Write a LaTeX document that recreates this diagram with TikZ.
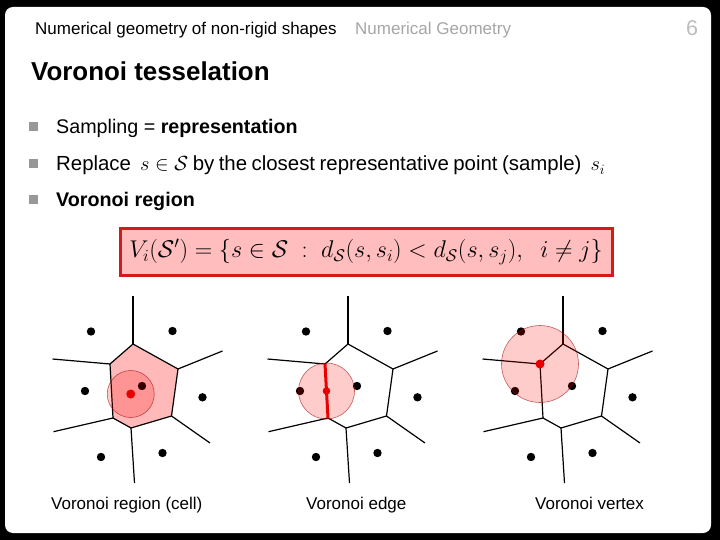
\documentclass[tikz,border=0pt]{standalone}
\usepackage{fix-cm}
\usepackage{fontspec}
\setmainfont{Liberation Sans}
\usepackage{amsmath}
\usepackage{amssymb}
\usetikzlibrary{positioning,calc}
\definecolor{headgray}{HTML}{A6A6A6}
\definecolor{pagegray}{HTML}{BDBDBD}
\definecolor{bulletgray}{HTML}{989898}
\definecolor{cellpink}{HTML}{FFB9B9}
\definecolor{boxred}{HTML}{D41A1A}
\definecolor{boxpink}{HTML}{FFBDBD}
\definecolor{dotred}{HTML}{E60000}

\begin{document}
\begin{tikzpicture}[x=1pt, y=-1pt,
  txt/.style={inner sep=0pt, anchor=base west, font=\fontsize{19.7}{23}\selectfont},
  head/.style={inner sep=0pt, anchor=base west, font=\fontsize{17}{20}\selectfont},
  caption/.style={inner sep=0pt, anchor=base west, font=\fontsize{17}{20}\selectfont},
  bullet/.style={fill=bulletgray, minimum size=9pt, inner sep=0pt},
  edge/.style={line width=1.2pt},
  hiedge/.style={line width=3pt, dotred},
  probe/.style={fill=red, fill opacity=0.2, draw=red!60!black, draw opacity=0.6, line width=0.6pt},
]
  \fill[black] (0,0) rectangle (720,540);
  \fill[white, rounded corners=8pt] (5,7) rectangle (711,533);

  \node[head] (course) at (35,35) {Numerical geometry of non-rigid shapes};
  \node[head, text=headgray] (topic) at (355,35) {Numerical Geometry};
  \node[inner sep=0pt, anchor=base west, text=pagegray, font=\fontsize{21.5}{24}\selectfont] (page) at (686,36) {6};

  \node[inner sep=0pt, anchor=base west, font=\fontsize{25.9}{30}\selectfont\bfseries] (title) at (31,81) {Voronoi tesselation};

  \node[bullet] (b1) at (33.5,127) {};
  \node[bullet] (b2) at (33.5,164) {};
  \node[bullet] (b3) at (33.5,200) {};
  \node[txt] (t1) at (56,134) {Sampling = \textbf{representation}};
  \node[txt, font=\fontsize{20.4}{23}\selectfont] (t2) at (56,171)
    {\hbox to 549pt{Replace \ $s\in\mathcal{S}$ by the closest representative point (sample) \ $s_i$}};
  \node[txt] (t3) at (56,207) {\textbf{Voronoi region}};

  \node[draw=boxred, fill=boxpink, line width=3pt, minimum width=492pt, minimum height=46pt,
        font=\fontsize{24.2}{28}\selectfont] (def) at (366,252)
    {$V_i(\mathcal{S}') = \{ s\in\mathcal{S}\;:\; d_{\mathcal{S}}(s,s_i) < d_{\mathcal{S}}(s,s_j),\;\; i\neq j\}$};

  \foreach \d/\ox in {A/40,B/255,C/470}{
    \begin{scope}[shift={(\ox,290)}]
      \coordinate (\d p1) at (51,41.5);
      \coordinate (\d p2) at (132.5,41);
      \coordinate (\d p3) at (45,101);
      \coordinate (\d p4) at (102,96);
      \coordinate (\d p5) at (162.5,107.3);
      \coordinate (\d p6) at (61,167);
      \coordinate (\d p7) at (122.5,163);
      \coordinate (\d v1) at (93,54);
      \coordinate (\d v2) at (138,79);
      \coordinate (\d v3) at (131.5,126);
      \coordinate (\d v4) at (91,138);
      \coordinate (\d v5) at (73,128);
      \coordinate (\d v6) at (70,74);
      \coordinate (\d e1) at (93,6);
      \coordinate (\d e2) at (182.5,61);
      \coordinate (\d e3) at (170,153);
      \coordinate (\d e4) at (94.5,193);
      \coordinate (\d e5) at (13.5,141.7);
      \coordinate (\d e6) at (12.5,69);
    \end{scope}
  }
  \coordinate (Aq) at ($(Av6)!0.5!(Av3)+(-10,4)$);
  \coordinate (Bq) at ($(Bv6)!0.5!(Bv5)$);

  \fill[cellpink] (Av1) -- (Av2) -- (Av3) -- (Av4) -- (Av5) -- (Av6) -- cycle;

  \foreach \d in {A,B,C}{
    \draw[edge] (\d v1) -- (\d v2) -- (\d v3) -- (\d v4) -- (\d v5) -- (\d v6) -- cycle;
    \foreach \i in {1,...,6}
      \draw[edge] (\d v\i) -- (\d e\i);
    \foreach \i in {1,...,7}
      \fill (\d p\i) circle[radius=4.2];
  }

  \draw[probe] (Aq) circle[radius=23.5];
  \fill[dotred] (Aq) circle[radius=4.5];

  \draw[hiedge] (Bv6) -- (Bv5);
  \draw[probe] (Bq) circle[radius=28];
  \fill[dotred] (Bq) circle[radius=3.8];

  \draw[probe] (Cv6) circle[radius=38.5];
  \fill[dotred] (Cv6) circle[radius=4.5];

  \node[caption] (capA) at (51,509) {Voronoi region (cell)};
  \node[caption] (capB) at (306,509) {Voronoi edge};
  \node[caption] (capC) at (535,509) {Voronoi vertex};
\end{tikzpicture}
\end{document}
